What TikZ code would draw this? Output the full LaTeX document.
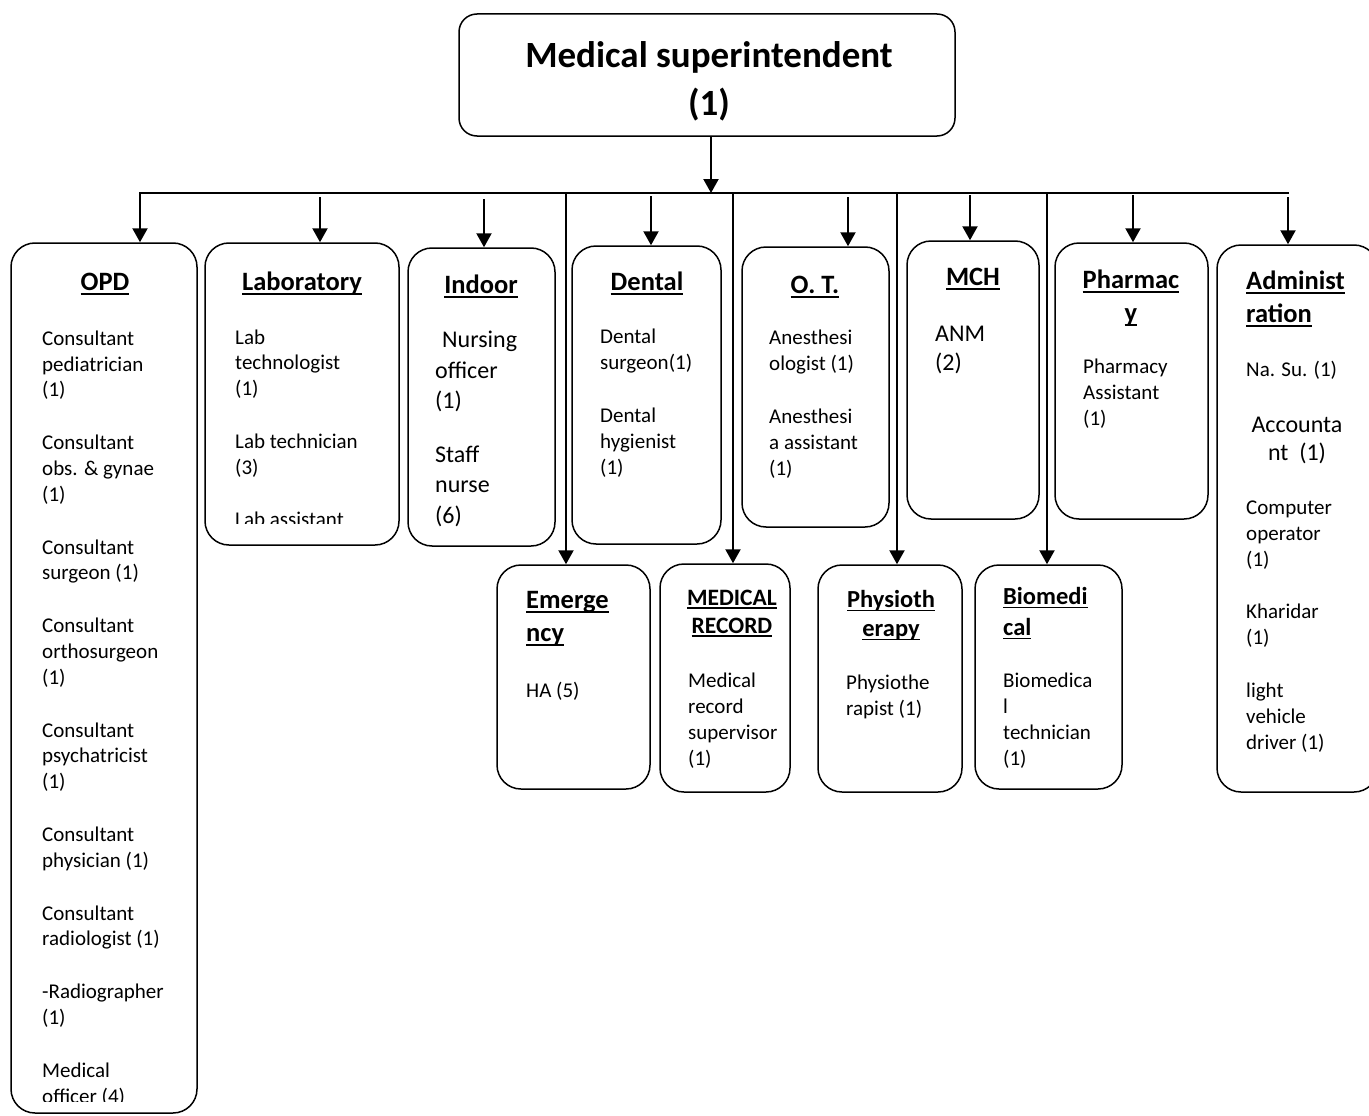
\documentclass[tikz,border=0pt]{standalone}
\usepackage{fontspec}
\setmainfont{Carlito}
\usetikzlibrary{arrows.meta}
\newcommand\myul[1]{\setbox0\hbox{#1}\rlap{\rule[-0.17em]{\wd0}{0.065em}}\box0}
\tikzset{
 box/.style={draw, line width=1.5pt, rounded corners=24pt, inner sep=0pt},
 arr/.style={line width=2.2pt, -{Triangle[width=15pt,length=14pt]}},
 ttl/.style={font=\fontsize{26.5}{33}\selectfont\bfseries, inner sep=0pt, align=center},
 ttll/.style={font=\fontsize{26.5}{33}\selectfont\bfseries, inner sep=0pt, align=left},
 txt/.style={font=\fontsize{21}{25.8}\selectfont, inner sep=0pt, align=left},
 txtb/.style={font=\fontsize{24}{30}\selectfont, inner sep=0pt, align=left},
}
\begin{document}
\begin{tikzpicture}[x=1pt,y=-1pt]
\useasboundingbox (0,0) rectangle (1369,1116);
% boxes
\node[box, rounded corners=18pt, minimum width=496pt, minimum height=122pt] (ms) at (707,75) {};
\node[box, minimum width=186pt, minimum height=870pt] (opd) at (104,678) {};
\node[box, minimum width=194pt, minimum height=302pt] (lab) at (302,394) {};
\node[box, minimum width=147pt, minimum height=298pt] (indoor) at (481.5,397) {};
\node[box, minimum width=149pt, minimum height=298pt] (dental) at (646.5,395) {};
\node[box, minimum width=147pt, minimum height=280pt] (ot) at (815.5,387) {};
\node[box, minimum width=132pt, minimum height=278pt] (mch) at (973,380) {};
\node[box, minimum width=153pt, minimum height=276pt] (pharm) at (1131.5,381) {};
\node[box, minimum width=161pt, minimum height=547pt] (admin) at (1297.5,518.5) {};
\node[box, minimum width=153pt, minimum height=224pt] (emerg) at (573.5,677) {};
\node[box, minimum width=130pt, minimum height=228pt] (medrec) at (725,678) {};
\node[box, minimum width=144pt, minimum height=227pt] (physio) at (890,678.5) {};
\node[box, minimum width=147pt, minimum height=224pt] (biomed) at (1048.5,677) {};
% main title (anchor base = last line)
\node[font=\fontsize{37}{48}\selectfont\bfseries, inner sep=0pt, align=center, anchor=base] (mst) at (709,115) {Medical superintendent\\(1)};
% connectors
\coordinate (bL) at (139,193);
\coordinate (bR) at (1289,193);
\coordinate (bm) at (711,193);
\draw[line width=2pt] (bL) -- (bR);
\draw[arr] (ms.south -| bm) -- (bm);
\coordinate (t1) at (140,193);
\coordinate (t2) at (320,197);
\coordinate (t3) at (484,199);
\coordinate (t4) at (651,196);
\coordinate (t5) at (848,197);
\coordinate (t6) at (970,195);
\coordinate (t7) at (1133,195);
\coordinate (t8) at (1288,197);
\draw[arr] (t1) -- (t1 |- opd.north);
\draw[arr] (t2) -- (t2 |- lab.north);
\draw[arr] (t3) -- (t3 |- indoor.north);
\draw[arr] (t4) -- (t4 |- dental.north);
\draw[arr] (t5) -- (t5 |- ot.north);
\draw[arr] (t6) -- (t6 |- mch.north);
\draw[arr] (t7) -- (t7 |- pharm.north);
\draw[arr] (t8) -- (t8 |- admin.north);
\coordinate (l1) at (566,193);
\coordinate (l2) at (733,193);
\coordinate (l3) at (897,193);
\coordinate (l4) at (1047,193);
\draw[arr] (l1) -- (l1 |- emerg.north);
\draw[arr] (l2) -- (l2 |- medrec.north);
\draw[arr] (l3) -- (l3 |- physio.north);
\draw[arr] (l4) -- (l4 |- biomed.north);
% OPD
\node[ttl, anchor=base] (opdt) at (105,290) {\myul{OPD}};
\begin{scope}
\clip (15,300) rectangle (195,1101);
\node[txt, anchor=base west] (opdb) at (42,1103) {Consultant\\pediatrician\\(1)\\[27pt]Consultant\\obs. \& gynae\\(1)\\[27pt]Consultant\\surgeon (1)\\[27pt]Consultant\\orthosurgeon\\(1)\\[27pt]Consultant\\psychatricist\\(1)\\[27pt]Consultant\\physician (1)\\[27pt]Consultant\\radiologist (1)\\[27pt]-Radiographer\\(1)\\[27pt]Medical\\officer (4)};
\end{scope}
% Laboratory
\node[ttl, anchor=base] (labt) at (302,290) {\myul{Laboratory}};
\begin{scope}
\clip (210,300) rectangle (395,523);
\node[txt, anchor=base west] (labb) at (235,526) {Lab\\technologist\\(1)\\[27pt]Lab technician\\(3)\\[26pt]Lab assistant};
\end{scope}
% Indoor
\node[ttl, anchor=base] (indt) at (481,293) {\myul{Indoor}};
\node[txtb, font=\fontsize{24}{30.5}\selectfont, anchor=base west] (indb) at (435,523) {\hspace*{7pt}Nursing\\officer\\(1)\\[23pt]Staff\\nurse\\(6)};
% Dental
\node[ttl, anchor=base] (dent) at (647,290) {\myul{Dental}};
\node[txt, anchor=base west] (denb) at (600,474) {Dental\\surgeon(1)\\[27pt]Dental\\hygienist\\(1)};
% O.T.
\node[ttl, anchor=base] (ott) at (815,293) {\myul{O. T.}};
\node[txt, anchor=base west] (otb) at (769,475) {Anesthesi\\ologist (1)\\[27pt]Anesthesi\\a assistant\\(1)};
% MCH
\node[ttl, anchor=base] (mcht) at (973,285) {\myul{MCH}};
\node[txtb, font=\fontsize{24}{29}\selectfont, anchor=base west] (mchb) at (935,370) {ANM\\(2)};
% Pharmacy
\node[ttl, anchor=base] (pht) at (1131,321) {\myul{Pharmac}\\\myul{y}};
\node[txt, anchor=base west] (phb) at (1083,425) {Pharmacy\\Assistant\\(1)};
% Administration
\node[ttll, anchor=base west] (admt) at (1246,322) {\myul{Administ}\\\myul{ration}};
\node[txt, anchor=base west] (admb1) at (1246,376) {Na. Su. (1)};
\node[txtb, font=\fontsize{24}{28}\selectfont, align=center, anchor=base] (admb2) at (1297,460) {Accounta\\nt\ \ (1)};
\node[txt, anchor=base west] (admb3) at (1246,749) {Computer\\operator\\(1)\\[27pt]Kharidar\\(1)\\[27pt]light\\vehicle\\driver (1)};
% Emergency
\node[ttll, anchor=base west] (emt) at (526,641) {\myul{Emerge}\\\myul{ncy}};
\node[txt, anchor=base west] (emb) at (526,697) {HA (5)};
% Medical record
\node[ttl, font=\fontsize{23.5}{28}\selectfont\bfseries, anchor=base] (mrt) at (732,633) {\myul{MEDICAL}\\\myul{RECORD}};
\node[txt, anchor=base west] (mrb) at (688,765) {Medical\\record\\supervisor\\(1)};
% Physiotherapy
\node[ttl, font=\fontsize{24.5}{29}\selectfont\bfseries, anchor=base] (pyt) at (891,636) {\myul{Physioth}\\\myul{erapy}};
\node[txt, anchor=base west] (pyb) at (846,715) {Physiothe\\rapist (1)};
% Biomedical
\node[ttll, font=\fontsize{24.5}{31}\selectfont\bfseries, anchor=base west] (bmt) at (1003,635) {\myul{Biomedi}\\\myul{cal}};
\node[txt, anchor=base west] (bmb) at (1003,765) {Biomedica\\l\\technician\\(1)};
\end{tikzpicture}
\end{document}
